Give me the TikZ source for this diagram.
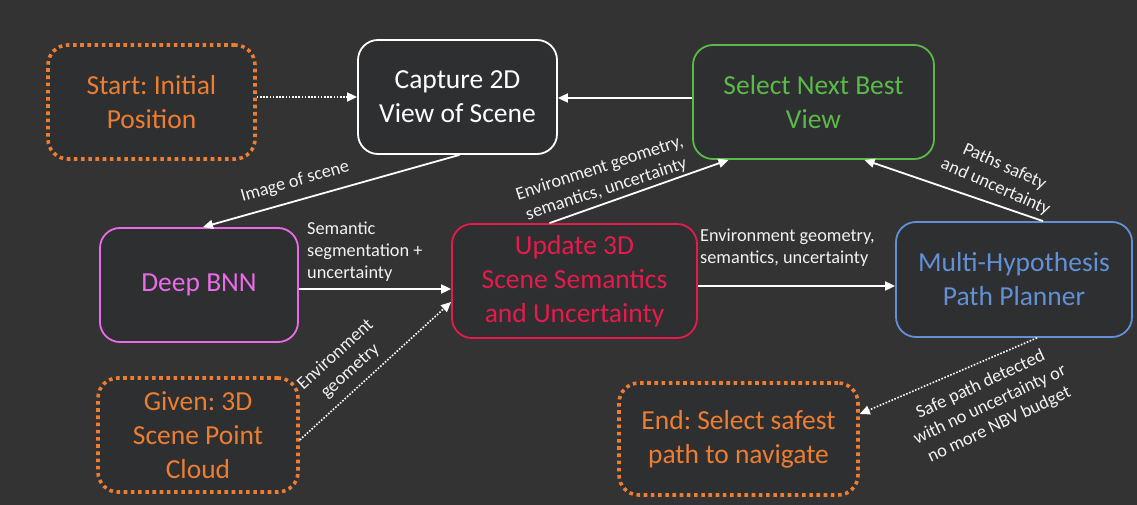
\documentclass[tikz,border=0pt]{standalone}
\usepackage{fontspec}
\setmainfont{Carlito}
\usetikzlibrary{arrows.meta}
\frenchspacing
\definecolor{bg}{HTML}{333333}
\definecolor{boxfill}{HTML}{2E2F31}
\definecolor{corange}{HTML}{ED7D31}
\definecolor{cgreen}{HTML}{5BB947}
\definecolor{cmag}{HTML}{EA6BE8}
\definecolor{cred}{HTML}{E81A4B}
\definecolor{cblue}{HTML}{6290D6}
\definecolor{ctext}{HTML}{F2F2F2}
\begin{document}
\begin{tikzpicture}[x=1pt,y=-1pt,
  box/.style={draw, line width=1.8pt, rounded corners=20pt, fill=boxfill, align=center,
    font=\fontsize{27.5}{34}\selectfont, inner sep=0pt},
  dotbox/.style={box, draw=corange, text=corange, line width=3.6pt, dash pattern=on 3.6pt off 3.6pt},
  flow/.style={draw=white, line width=1.8pt, -{Triangle[length=10pt,width=9pt]}},
  dotflow/.style={flow, line width=1.6pt, dash pattern=on 1.6pt off 1.6pt},
  lbl/.style={text=ctext, font=\fontsize{18.3}{22}\selectfont, align=center, inner sep=0pt},
  lbll/.style={lbl, align=left}
]
\fill[bg] (0,0) rectangle (1137,505);
\useasboundingbox (0,0) rectangle (1137,505);

\node[dotbox, minimum width=207pt, minimum height=114pt] (start) at (151.5,102) {Start: Initial\\Position};
\node[box, draw=white, text=white, minimum width=199pt, minimum height=114pt] (capture) at (457.5,97) {Capture 2D\\View of Scene};
\node[box, draw=cgreen, text=cgreen, minimum width=241pt, minimum height=114pt] (select) at (813.5,102) {Select Next Best\\View};
\node[box, draw=cmag, text=cmag, minimum width=198pt, minimum height=114pt] (deep) at (199,285) {Deep BNN};
\node[box, draw=cred, text=cred, minimum width=245pt, minimum height=114pt] (update) at (574.5,281) {Update 3D\\Scene Semantics\\and Uncertainty};
\node[box, draw=cblue, text=cblue, minimum width=236pt, minimum height=115pt] (multi) at (1014,279.5) {Multi-Hypothesis\\Path Planner};
\node[dotbox, minimum width=200pt, minimum height=114pt] (given) at (198,435) {Given: 3D\\Scene Point\\Cloud};
\node[dotbox, minimum width=239pt, minimum height=112pt] (end) at (738.5,439) {End: Select safest\\path to navigate};

% connectors
\draw[dotflow] (start.east |- 0,97) -- (capture.west |- 0,97);
\draw[flow] (select.west |- 0,98) -- (capture.east |- 0,98);
\draw[flow] ([xshift=2pt]capture.south) -- ([xshift=4pt]deep.north);
\draw[flow] ([yshift=-4pt]deep.east) -- ([yshift=-8pt]update.west);
\draw[dotflow] ([yshift=-5pt]given.east) -- ([yshift=-21pt]update.west);
\draw[flow] ([xshift=-25pt]update.north) -- ([xshift=-85pt]select.south);
\draw[flow] ([yshift=-5pt]update.east) -- ([yshift=-6.5pt]multi.west);
\draw[flow] ([xshift=29pt]multi.north) -- ([xshift=51pt]select.south);
\draw[dotflow] ([xshift=23pt]multi.south) -- ([yshift=25pt]end.east);

% labels
\node[lbl, rotate=16] (limg) at (295,182) {Image of scene};
\node[lbll, anchor=north west] (lseg) at (307,222) {Semantic\\segmentation +\\uncertainty};
\node[lbl, rotate=42] (lgeo) at (343,363) {Environment\\geometry};
\node[lbl, rotate=18] (lenv1) at (603,179) {Environment geometry,\\semantics, uncertainty};
\node[lbll, anchor=north west] (lenv2) at (700,229) {Environment geometry,\\semantics, uncertainty};
\node[lbl, rotate=-24] (lpath) at (1000,177) {Paths safety\\and uncertainty};
\node[lbl, rotate=25] (lsafe) at (990,405) {Safe path detected\\with no uncertainty or\\no more NBV budget};
\end{tikzpicture}
\end{document}
